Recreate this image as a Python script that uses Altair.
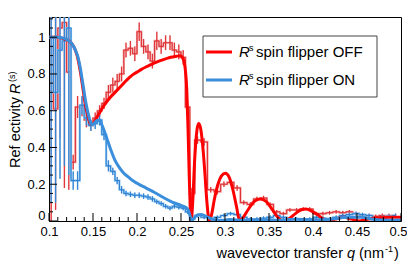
import altair as alt
import pandas as pd

# ---------------- data ----------------
bin_q = [0.1025, 0.1075, 0.1125, 0.1175, 0.1225, 0.1275, 0.1325, 0.1375, 0.1425, 0.1475,
         0.1525, 0.1575, 0.1625, 0.1675, 0.1725, 0.1775, 0.1825, 0.1875, 0.1925, 0.1975,
         0.2025, 0.2075, 0.2125, 0.2175, 0.2225, 0.2275, 0.2325, 0.2375, 0.2425, 0.2475,
         0.2525, 0.2575, 0.2625,
         0.2688, 0.2763, 0.2838, 0.2913, 0.2988, 0.3063, 0.3138, 0.3213, 0.3288, 0.3363,
         0.3438, 0.3513, 0.3588, 0.3663, 0.3738, 0.3813, 0.3888, 0.3963, 0.4038, 0.4113,
         0.4188, 0.4263, 0.4338, 0.4413, 0.4488, 0.4563, 0.4638, 0.4713, 0.4788, 0.4863, 0.4938]

off_R = [0.95, 0.61, 1.05, 1.08, 0.81, 0.32, 0.62, 0.62, 0.55, 0.52,
         0.56, 0.60, 0.64, 0.70, 0.74, 0.76, 0.80, 0.93, 0.94, 0.91,
         1.03, 0.95, 0.92, 0.87, 0.98, 0.95, 0.97, 0.97, 0.93, 0.92,
         0.89, 0.62, 0.15,
         0.44, 0.43, 0.17, 0.16, 0.20, 0.21, 0.18, 0.10, 0.09, 0.12,
         0.125, 0.09, 0.05, 0.04, 0.06, 0.06, 0.065, 0.065, 0.04, 0.04,
         0.045, 0.05, 0.045, 0.05, 0.04, 0.03, 0.03, 0.025, 0.03, 0.03, 0.03]
off_err = [0.95, 0.55, 0.6, 0.9, 0.64, 0.04, 0.06, 0.05, 0.04, 0.03,
           0.03, 0.03, 0.03, 0.04, 0.04, 0.04, 0.04, 0.04, 0.04, 0.04,
           0.05, 0.04, 0.04, 0.04, 0.05, 0.04, 0.04, 0.04, 0.04, 0.04,
           0.04, 0.04, 0.03,
           0.02, 0.02, 0.015, 0.015, 0.015, 0.015, 0.015, 0.012, 0.012, 0.012,
           0.012, 0.01, 0.01, 0.01, 0.01, 0.01, 0.01, 0.01, 0.01, 0.01,
           0.01, 0.01, 0.01, 0.01, 0.01, 0.01, 0.01, 0.01, 0.01, 0.01, 0.01]

on_R = [1.00, 0.70, 0.93, 0.98, 1.05, 0.22, 0.22, 0.63, 0.56, 0.52,
        0.53, 0.55, 0.47, 0.30, 0.27, 0.22, 0.17, 0.15, 0.145, 0.14,
        0.14, 0.135, 0.13, 0.12, 0.105, 0.095, 0.08, 0.07, 0.08, 0.075,
        0.07, 0.05, 0.01,
        0.03, 0.02, 0.01, 0.02, 0.03, 0.04, 0.035, 0.02, 0.01, 0.01,
        0.015, 0.02, 0.03, 0.02, 0.01, 0.01, 0.005, 0.01, 0.02, 0.015,
        0.01, 0.02, 0.03, 0.035, 0.04, 0.035, 0.03, 0.01, 0.02, 0.025, 0.03]
on_err = [0.9, 0.6, 0.7, 0.68, 0.8, 0.05, 0.05, 0.05, 0.04, 0.03,
          0.03, 0.03, 0.03, 0.03, 0.02, 0.02, 0.02, 0.015, 0.015, 0.015,
          0.015, 0.015, 0.015, 0.015, 0.012, 0.012, 0.012, 0.012, 0.012, 0.012,
          0.012, 0.012, 0.01,
          0.01, 0.01, 0.01, 0.01, 0.01, 0.01, 0.01, 0.01, 0.01, 0.01,
          0.01, 0.01, 0.01, 0.01, 0.01, 0.01, 0.01, 0.01, 0.01, 0.01,
          0.01, 0.01, 0.01, 0.01, 0.01, 0.01, 0.01, 0.01, 0.01, 0.01, 0.01]

fit_off_q = [0.100, 0.110, 0.118, 0.124, 0.128, 0.132, 0.135, 0.138, 0.141, 0.144,
             0.146, 0.1485, 0.151, 0.154, 0.157, 0.160, 0.165, 0.170, 0.175, 0.180,
             0.185, 0.190, 0.195, 0.200, 0.205, 0.210, 0.215, 0.220, 0.225, 0.230,
             0.235, 0.240, 0.245, 0.249, 0.2515, 0.2535, 0.255, 0.2565, 0.258, 0.2595,
             0.2615, 0.2635, 0.2655, 0.268, 0.270, 0.272, 0.2745, 0.277, 0.2795, 0.282,
             0.2845, 0.288, 0.292, 0.296, 0.3005, 0.305, 0.309, 0.313, 0.3165, 0.320,
             0.326, 0.333, 0.340, 0.347, 0.354, 0.360, 0.366, 0.372, 0.380, 0.386,
             0.392, 0.398, 0.405, 0.412, 0.417, 0.425, 0.435, 0.444, 0.452, 0.462,
             0.475, 0.487, 0.500]
fit_off_R = [1.00, 1.00, 0.99, 0.975, 0.95, 0.90, 0.83, 0.74, 0.64, 0.575,
             0.54, 0.527, 0.535, 0.56, 0.585, 0.61, 0.645, 0.675, 0.70, 0.725,
             0.75, 0.775, 0.795, 0.81, 0.825, 0.838, 0.85, 0.86, 0.87, 0.878,
             0.886, 0.892, 0.897, 0.899, 0.89, 0.865, 0.82, 0.72, 0.50, 0.22,
             0.0, 0.12, 0.33, 0.49, 0.53, 0.51, 0.42, 0.27, 0.10, 0.005,
             0.03, 0.12, 0.20, 0.245, 0.26, 0.235, 0.17, 0.08, 0.005, 0.015,
             0.06, 0.105, 0.12, 0.105, 0.06, 0.02, 0.0, 0.01, 0.04, 0.06,
             0.065, 0.055, 0.035, 0.01, 0.0, 0.01, 0.02, 0.01, 0.0, 0.01,
             0.018, 0.02, 0.02]

fit_on_q = [0.100, 0.110, 0.116, 0.121, 0.126, 0.130, 0.133, 0.136, 0.139, 0.142,
            0.145, 0.147, 0.149, 0.151, 0.154, 0.156, 0.159, 0.162, 0.166, 0.170,
            0.175, 0.180, 0.185, 0.190, 0.195, 0.200, 0.210, 0.220, 0.230, 0.240,
            0.250, 0.255, 0.258, 0.2605, 0.262, 0.2645, 0.268, 0.273, 0.280, 0.288,
            0.296, 0.305, 0.320, 0.340, 0.360, 0.380, 0.400, 0.420, 0.440, 0.455,
            0.470, 0.485, 0.500]
fit_on_R = [1.00, 1.00, 0.995, 0.985, 0.965, 0.93, 0.89, 0.82, 0.73, 0.64,
            0.575, 0.54, 0.525, 0.53, 0.545, 0.548, 0.535, 0.50, 0.445, 0.39,
            0.33, 0.29, 0.26, 0.24, 0.22, 0.205, 0.18, 0.155, 0.128, 0.103,
            0.085, 0.075, 0.062, 0.025, 0.0, 0.015, 0.03, 0.035, 0.022, 0.006,
            0.003, 0.008, 0.004, 0.006, 0.004, 0.01, 0.006, 0.01, 0.02, 0.02,
            0.008, 0.004, 0.005]

x_ticks = [0.1, 0.15, 0.2, 0.25, 0.3, 0.35, 0.4, 0.45, 0.5]
y_ticks = [0, 0.2, 0.4, 0.6, 0.8, 1.0]
x_minor = [round(0.1 + 0.01 * i, 2) for i in range(41)]
y_minor = [round(0.05 * i, 2) for i in range(23)]
legend_labels = ["spin flipper OFF", "spin flipper ON"]

# ---------------- styles ----------------
FONT = "Liberation Sans"
RED_FIT, BLUE_FIT = "#ff0000", "#3a8edb"
RED_DARK, RED_LIGHT = "#dc2e32", "#f29a9a"
BLUE_DARK, BLUE_LIGHT = "#2a7dd1", "#8cc4ee"
W, H = 352, 204
QMIN, QMAX, RMIN, RMAX = 0.1, 0.5, 0.0, 1.11

data = pd.DataFrame({"q": bin_q, "off": off_R, "off_err": off_err, "on": on_R, "on_err": on_err})
data["off_lo"] = data["off"] - data["off_err"]
data["off_hi"] = data["off"] + data["off_err"]
data["on_lo"] = data["on"] - data["on_err"]
data["on_hi"] = data["on"] + data["on_err"]
fit_off = pd.DataFrame({"q": fit_off_q, "R": fit_off_R})
fit_on = pd.DataFrame({"q": fit_on_q, "R": fit_on_R})

xs = alt.Scale(domain=[QMIN, QMAX], nice=False, zero=False)
ys = alt.Scale(domain=[RMIN, RMAX], nice=False, zero=False)
xax = alt.Axis(values=x_ticks, format="~g", ticks=False, domain=False, grid=False, title=None,
               labelFlush=False, labelFontSize=13, labelFont=FONT, labelColor="black", labelPadding=4,
               labelOffset={"condition": {"test": "datum.value >= 0.5", "value": -3}, "value": 0})
yax = alt.Axis(values=y_ticks, format="~g", ticks=False, domain=False, grid=False, title=None,
               labelFontSize=13, labelFont=FONT, labelColor="black", labelPadding=4,
               labelOffset={"condition": {"test": "datum.value == 0", "value": -6}, "value": 0})

base = alt.Chart(data)


def steps(col, color, width):
    return base.mark_line(interpolate="step", color=color, strokeWidth=width, clip=True).encode(
        x=alt.X("q:Q", scale=xs, axis=xax), y=alt.Y(f"{col}:Q", scale=ys, axis=yax))


def errs(col, color, width):
    return base.mark_rule(color=color, strokeWidth=width, clip=True).encode(
        x=alt.X("q:Q", scale=xs), y=alt.Y(f"{col}_lo:Q", scale=ys), y2=f"{col}_hi:Q")


layers = [
    steps("off", RED_LIGHT, 2.2), errs("off", RED_LIGHT, 1.6),
    steps("off", RED_DARK, 1), errs("off", RED_DARK, 1),
    steps("on", BLUE_LIGHT, 2.2), errs("on", BLUE_LIGHT, 1.6),
    steps("on", BLUE_DARK, 1), errs("on", BLUE_DARK, 1),
    alt.Chart(fit_off).mark_line(color=RED_FIT, strokeWidth=3, interpolate="monotone", clip=True).encode(
        x=alt.X("q:Q", scale=xs), y=alt.Y("R:Q", scale=ys)),
    alt.Chart(fit_on).mark_line(color=BLUE_FIT, strokeWidth=3, interpolate="monotone", clip=True).encode(
        x=alt.X("q:Q", scale=xs), y=alt.Y("R:Q", scale=ys)),
]

# ticks pointing inward
xt_major = pd.DataFrame({"v": x_ticks})
xt_minor = pd.DataFrame({"v": [v for v in x_minor if v not in x_ticks]})
yt_major = pd.DataFrame({"v": y_ticks})
yt_minor = pd.DataFrame({"v": [v for v in y_minor if v not in y_ticks]})
layers += [
    alt.Chart(xt_major).mark_rule(color="black", strokeWidth=1).encode(
        x=alt.X("v:Q", scale=xs), y=alt.value(H), y2=alt.value(H - 8)),
    alt.Chart(xt_minor).mark_rule(color="black", strokeWidth=1).encode(
        x=alt.X("v:Q", scale=xs), y=alt.value(H), y2=alt.value(H - 4)),
    alt.Chart(yt_major).mark_rule(color="black", strokeWidth=1).encode(
        y=alt.Y("v:Q", scale=ys), x=alt.value(0), x2=alt.value(8)),
    alt.Chart(yt_minor).mark_rule(color="black", strokeWidth=1).encode(
        y=alt.Y("v:Q", scale=ys), x=alt.value(0), x2=alt.value(4)),
]

one = pd.DataFrame({"a": [0]})


def txt(text, x, y, size=15, italic=False, align="left", baseline="alphabetic", angle=0):
    kw = dict(text=text, fontSize=size, font=FONT, color="black", align=align, baseline=baseline)
    if italic:
        kw["fontStyle"] = "italic"
    if angle:
        kw["angle"] = angle
    return alt.Chart(one).mark_text(**kw).encode(x=alt.value(x), y=alt.value(y))


# legend
layers += [
    alt.Chart(one).mark_rect(fill="white", stroke="#444", strokeWidth=1).encode(
        x=alt.value(154), x2=alt.value(328), y=alt.value(19), y2=alt.value(80)),
    alt.Chart(one).mark_rule(color=RED_FIT, strokeWidth=3).encode(
        x=alt.value(157), x2=alt.value(183), y=alt.value(35)),
    alt.Chart(one).mark_rule(color=BLUE_FIT, strokeWidth=3).encode(
        x=alt.value(157), x2=alt.value(183), y=alt.value(63)),
]
for yy, lab in zip([35, 63], legend_labels):
    layers += [
        txt("R", 190, yy + 5, italic=True),
        txt("s", 200, yy - 1, size=9),
        txt(lab, 207, yy + 5),
    ]

# axis titles
layers += [
    txt("wavevector transfer", 294, 241, size=14.5, align="right"),
    txt("q", 298, 241, size=14.5, italic=True),
    txt("(nm", 310, 241, size=14.5),
    txt("-1", 336, 235, size=9),
    txt(")", 345, 241, size=14.5),
    txt("Ref ectivity", -29, 80, size=14.5, align="right", angle=270),
    txt("R", -29, 77, size=14.5, italic=True, angle=270),
    txt("(s)", -34, 65, size=9, angle=270),
]

chart = alt.layer(*layers).properties(
    width=W, height=H,
    autosize=alt.AutoSizeParams(type="none"),
    padding={"left": 41, "top": 9, "right": 6, "bottom": 51},
).configure_view(stroke="black", strokeWidth=1)

chart.save("out.html", embed_options={"renderer": "svg", "actions": False})
